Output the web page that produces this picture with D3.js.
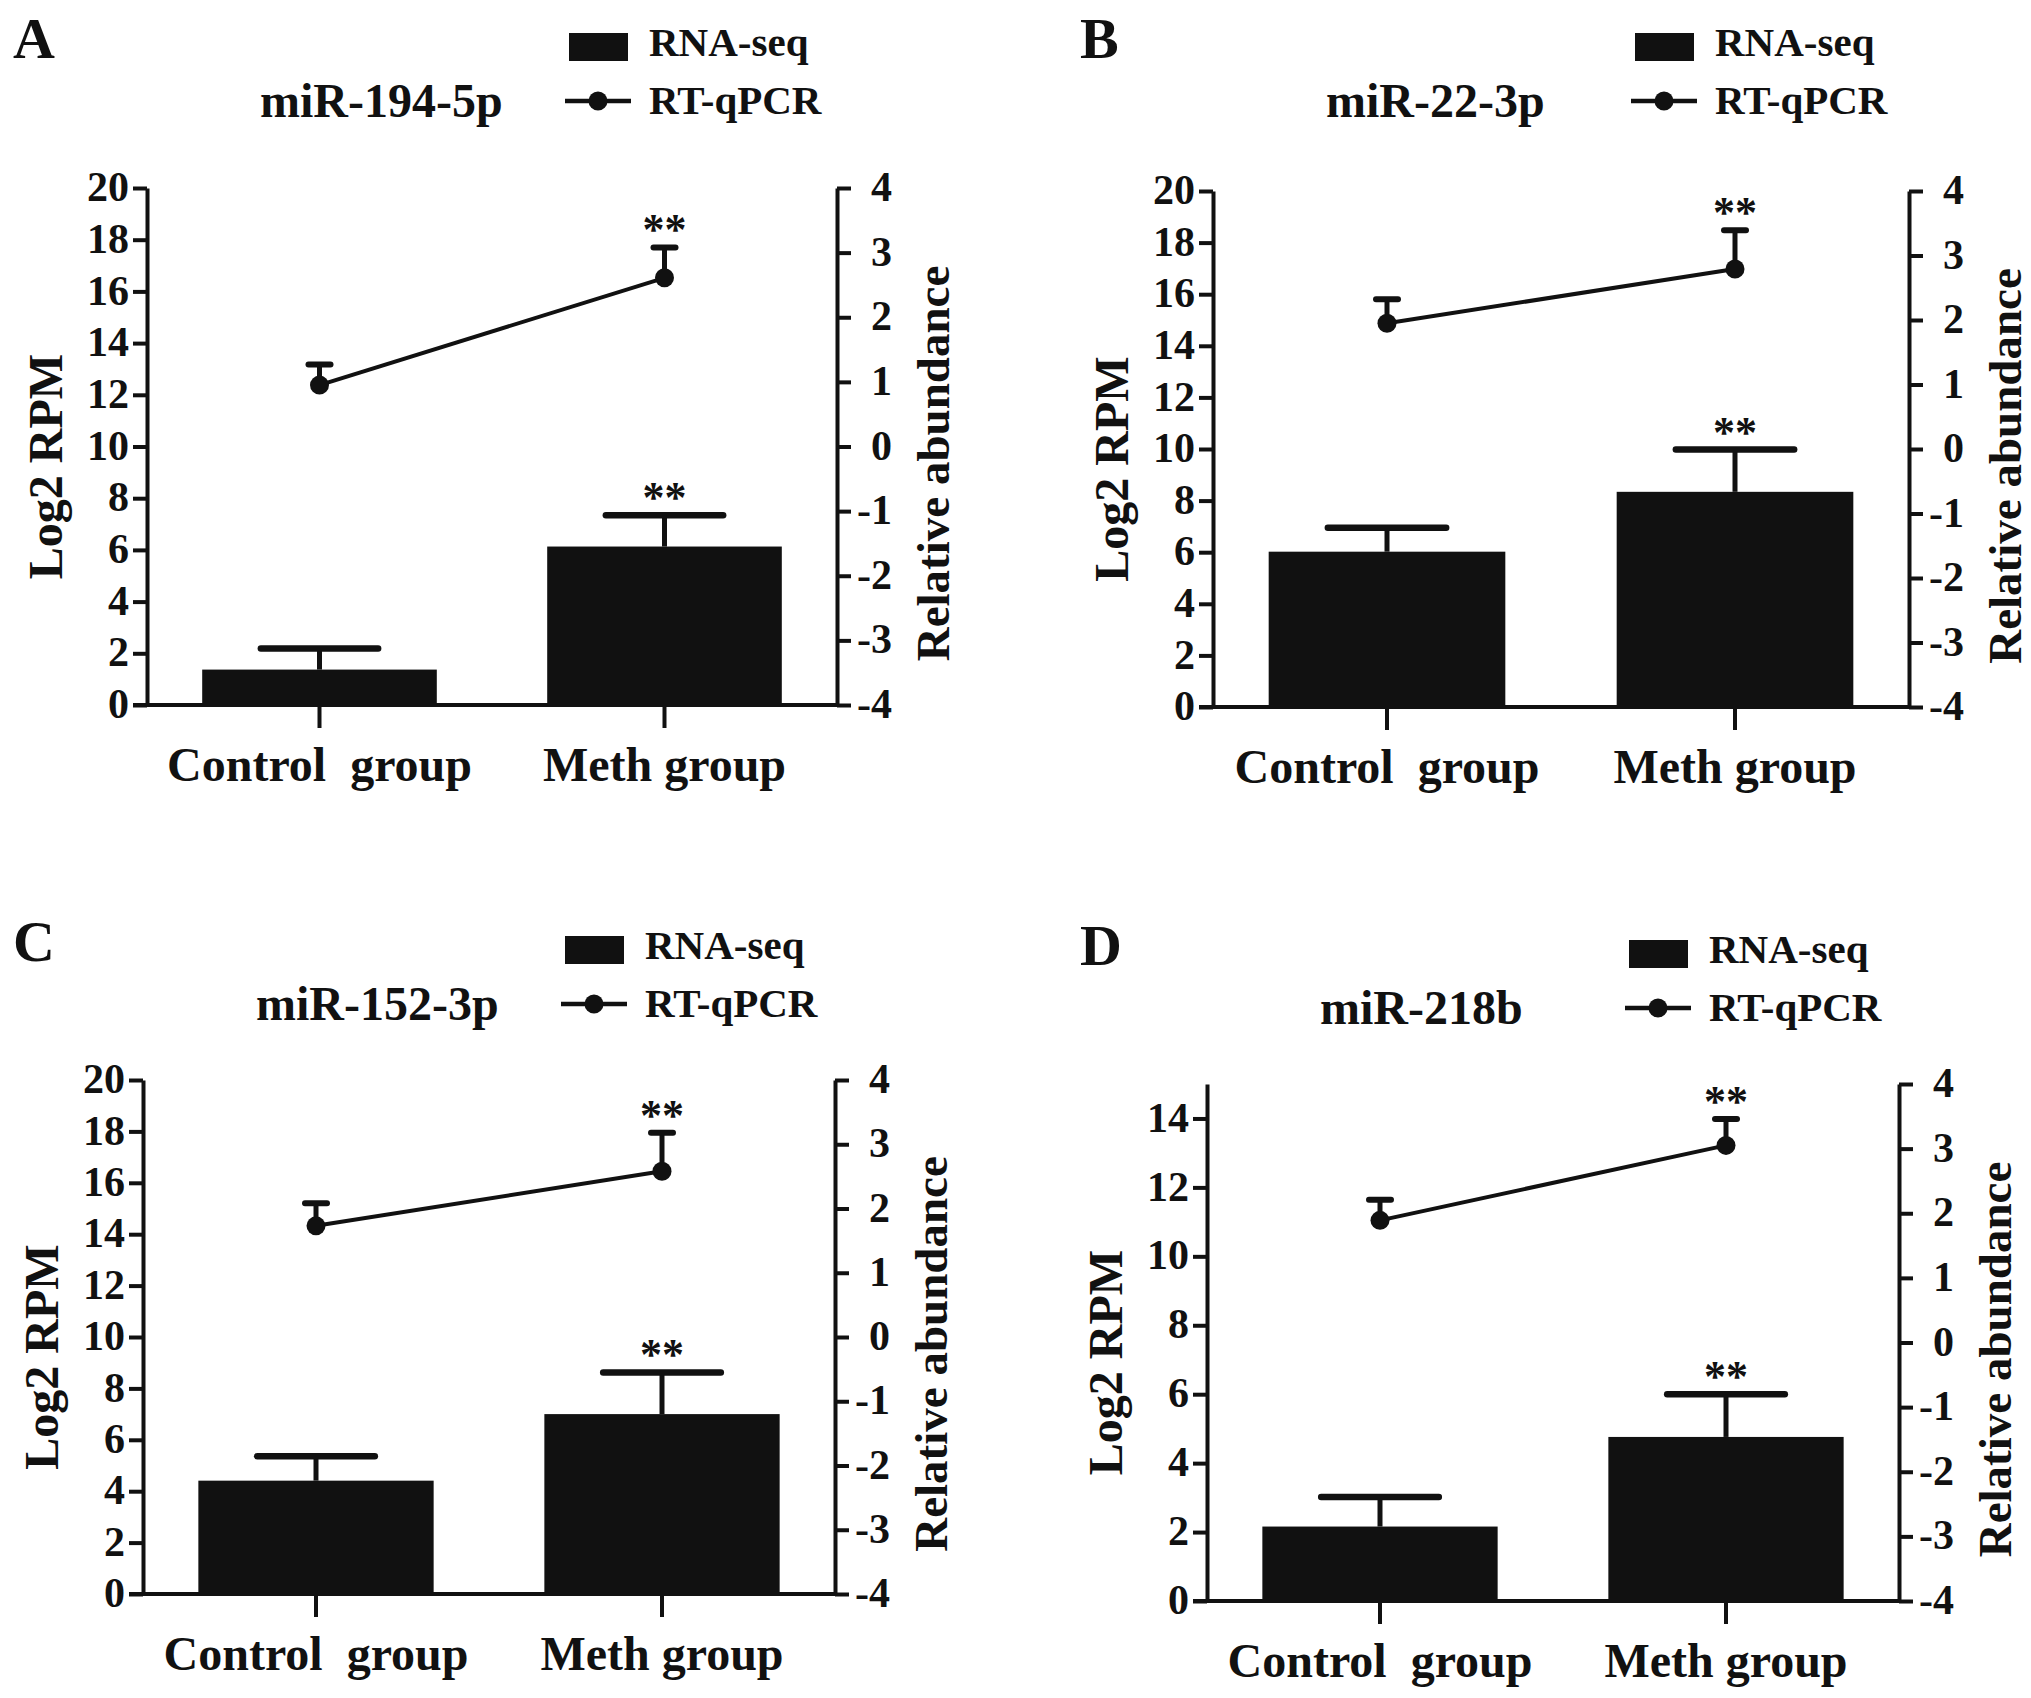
<!DOCTYPE html>
<html><head><meta charset="utf-8">
<script src="https://cdn.jsdelivr.net/npm/d3@7/dist/d3.min.js"></script>
<style>
body{margin:0;background:#fff}
svg{display:block}
text{font-family:"Liberation Serif","Times New Roman",serif;font-weight:bold;fill:#111}
</style>
</head><body>
<svg id="chart" width="2031" height="1698"></svg>
<script>
// ---------------- data ----------------
const categories = ["Control  group", "Meth group"];
const panelLetters = ["A", "B", "C", "D"];
const panelTitles = ["miR-194-5p", "miR-22-3p", "miR-152-3p", "miR-218b"];
const legendLabels = ["RNA-seq", "RT-qPCR"];
const leftAxisTitle = "Log2 RPM";
const rightAxisTitle = "Relative abundance";

// RNA-seq (left axis, Log2 RPM): mean and error per category
const rnaSeqMean = [[1.37, 6.13], [6.02, 8.34], [4.41, 7.00], [2.16, 4.76]];
const rnaSeqErr  = [[0.82, 1.21], [0.93, 1.64], [0.95, 1.62], [0.86, 1.24]];
// RT-qPCR (right axis, relative abundance): mean and error per category
const qpcrMean = [[0.95, 2.61], [1.95, 2.79], [1.73, 2.58], [1.89, 3.05]];
const qpcrErr  = [[0.32, 0.47], [0.37, 0.60], [0.35, 0.60], [0.32, 0.41]];
// significance marks
const rnaSeqSig = [["", "**"], ["", "**"], ["", "**"], ["", "**"]];
const qpcrSig   = [["", "**"], ["", "**"], ["", "**"], ["", "**"]];

// axis domains and tick labels
const leftMax = [20, 20, 20, 15];
const leftTicks = [
  [0, 2, 4, 6, 8, 10, 12, 14, 16, 18, 20],
  [0, 2, 4, 6, 8, 10, 12, 14, 16, 18, 20],
  [0, 2, 4, 6, 8, 10, 12, 14, 16, 18, 20],
  [0, 2, 4, 6, 8, 10, 12, 14]
];
const rightDomain = [-4, 4];
const rightTicks = [-4, -3, -2, -1, 0, 1, 2, 3, 4];

// ---------------- layout (positions, not data) ----------------
const frames = [
  {x0: 147,  x1: 837,  yTop: 188,  yBot: 705,  hy: 0,   letterX: 13},
  {x0: 1213, x1: 1909, yTop: 191,  yBot: 707,  hy: 0,   letterX: 1080},
  {x0: 143,  x1: 835,  yTop: 1080, yBot: 1594, hy: 903, letterX: 13},
  {x0: 1207, x1: 1899, yTop: 1084, yBot: 1601, hy: 907, letterX: 1080}
];
const INK = "#111";
const FONT = '"Liberation Serif","Times New Roman",serif';

const svg = d3.select("#chart");

frames.forEach((f, i) => {
  const g = svg.append("g");

  const x = d3.scaleBand().domain(categories).range([f.x0, f.x1])
    .paddingInner(0.32).paddingOuter(0.16);
  const yL = d3.scaleLinear().domain([0, leftMax[i]]).range([f.yBot, f.yTop]);
  const yR = d3.scaleLinear().domain(rightDomain).range([f.yBot, f.yTop]);

  // bars
  const bars = categories.map((c, k) => ({c, v: rnaSeqMean[i][k], e: rnaSeqErr[i][k], s: rnaSeqSig[i][k]}));
  g.selectAll("rect.bar").data(bars).join("rect")
    .attr("class", "bar")
    .attr("x", d => x(d.c)).attr("width", x.bandwidth())
    .attr("y", d => yL(d.v)).attr("height", d => yL(0) - yL(d.v))
    .attr("fill", INK);
  // bar error bars (upper only)
  g.selectAll("line.bstem").data(bars).join("line")
    .attr("x1", d => x(d.c) + x.bandwidth() / 2).attr("x2", d => x(d.c) + x.bandwidth() / 2)
    .attr("y1", d => yL(d.v)).attr("y2", d => yL(d.v + d.e))
    .attr("stroke", INK).attr("stroke-width", 5);
  g.selectAll("line.bcap").data(bars).join("line")
    .attr("x1", d => x(d.c) + x.bandwidth() * 0.25).attr("x2", d => x(d.c) + x.bandwidth() * 0.75)
    .attr("y1", d => yL(d.v + d.e)).attr("y2", d => yL(d.v + d.e))
    .attr("stroke", INK).attr("stroke-width", 6.5).attr("stroke-linecap", "round");
  g.selectAll("text.bsig").data(bars).join("text")
    .attr("x", d => x(d.c) + x.bandwidth() / 2).attr("y", d => yL(d.v + d.e) - 3)
    .attr("text-anchor", "middle").attr("font-size", 44).text(d => d.s);

  // RT-qPCR line
  const pts = categories.map((c, k) => ({c, v: qpcrMean[i][k], e: qpcrErr[i][k], s: qpcrSig[i][k]}));
  const cx = d => x(d.c) + x.bandwidth() / 2;
  g.append("path").datum(pts)
    .attr("d", d3.line().x(cx).y(d => yR(d.v)))
    .attr("fill", "none").attr("stroke", INK).attr("stroke-width", 4);
  g.selectAll("line.lstem").data(pts).join("line")
    .attr("x1", cx).attr("x2", cx)
    .attr("y1", d => yR(d.v)).attr("y2", d => yR(d.v + d.e))
    .attr("stroke", INK).attr("stroke-width", 5);
  g.selectAll("line.lcap").data(pts).join("line")
    .attr("x1", d => cx(d) - 11).attr("x2", d => cx(d) + 11)
    .attr("y1", d => yR(d.v + d.e)).attr("y2", d => yR(d.v + d.e))
    .attr("stroke", INK).attr("stroke-width", 6).attr("stroke-linecap", "round");
  g.selectAll("circle.pt").data(pts).join("circle")
    .attr("cx", cx).attr("cy", d => yR(d.v)).attr("r", 9.5).attr("fill", INK);
  g.selectAll("text.lsig").data(pts).join("text")
    .attr("x", cx).attr("y", d => yR(d.v + d.e) - 3)
    .attr("text-anchor", "middle").attr("font-size", 44).text(d => d.s);

  // left axis
  const ax = g.append("g").attr("transform", `translate(${f.x0},0)`)
    .call(d3.axisLeft(yL).tickValues(leftTicks[i]).tickSize(14).tickSizeOuter(0).tickPadding(4));
  // right axis
  const ar = g.append("g").attr("transform", `translate(${f.x1},0)`)
    .call(d3.axisRight(yR).tickValues(rightTicks).tickSize(14).tickSizeOuter(0).tickFormat(d3.format("d")));
  [ax, ar].forEach(a => {
    a.attr("font-family", FONT).attr("font-size", 42).attr("font-weight", "bold");
    a.select(".domain").attr("stroke", INK).attr("stroke-width", 4);
    a.selectAll(".tick line").attr("stroke", INK).attr("stroke-width", 4);
    a.selectAll(".tick text").attr("fill", INK)
      .style("font-family", FONT).style("font-weight", "bold").style("font-size", "42px");
  });
  ax.selectAll(".tick text").attr("dy", "0.3em");
  ar.selectAll(".tick text").attr("text-anchor", "end").attr("x", 55).attr("dy", "0.3em")
    .text(d => d < 0 ? "-" + Math.abs(d) : String(d));

  // x axis
  const axb = g.append("g").attr("transform", `translate(0,${f.yBot})`)
    .call(d3.axisBottom(x).tickSize(23).tickPadding(19));
  axb.attr("font-family", FONT).attr("font-size", 48).attr("font-weight", "bold");
  axb.select(".domain").remove();
  axb.selectAll(".tick line").attr("stroke", INK).attr("stroke-width", 4);
  axb.selectAll(".tick text").attr("fill", INK)
    .style("font-family", FONT).style("font-weight", "bold").style("font-size", "48px")
    .style("white-space", "pre");
  g.append("line")
    .attr("x1", f.x0 - 14).attr("x2", f.x1)
    .attr("y1", yL(0)).attr("y2", yL(0))
    .attr("stroke", INK).attr("stroke-width", 4);

  // axis titles
  g.append("text")
    .attr("transform", `translate(${f.x0 - 102},${(f.yTop + f.yBot) / 2 + 20}) rotate(-90)`)
    .attr("text-anchor", "middle").attr("dy", "0.35em").attr("font-size", 48).text(leftAxisTitle);
  g.append("text")
    .attr("transform", `translate(${f.x1 + 96},${(f.yTop + f.yBot) / 2 + 17}) rotate(-90)`)
    .attr("text-anchor", "middle").attr("dy", "0.35em").attr("font-size", 47).text(rightAxisTitle);

  // panel letter and title
  g.append("text").attr("x", f.letterX).attr("y", 58 + f.hy).attr("font-size", 58).text(panelLetters[i]);
  g.append("text").attr("x", f.x0 + 113).attr("y", 117 + f.hy).attr("font-size", 48).text(panelTitles[i]);

  // legend
  const lg = g.append("g");
  lg.append("rect").attr("x", f.x0 + 422).attr("y", 33 + f.hy).attr("width", 59).attr("height", 28).attr("fill", INK);
  lg.append("text").attr("x", f.x0 + 502).attr("y", 56 + f.hy).attr("font-size", 41).text(legendLabels[0]);
  lg.append("line").attr("x1", f.x0 + 418).attr("x2", f.x0 + 484)
    .attr("y1", 101 + f.hy).attr("y2", 101 + f.hy).attr("stroke", INK).attr("stroke-width", 4.5);
  lg.append("circle").attr("cx", f.x0 + 451).attr("cy", 101 + f.hy).attr("r", 9.5).attr("fill", INK);
  lg.append("text").attr("x", f.x0 + 502).attr("y", 114 + f.hy).attr("font-size", 41).text(legendLabels[1]);
});
</script>
</body></html>
